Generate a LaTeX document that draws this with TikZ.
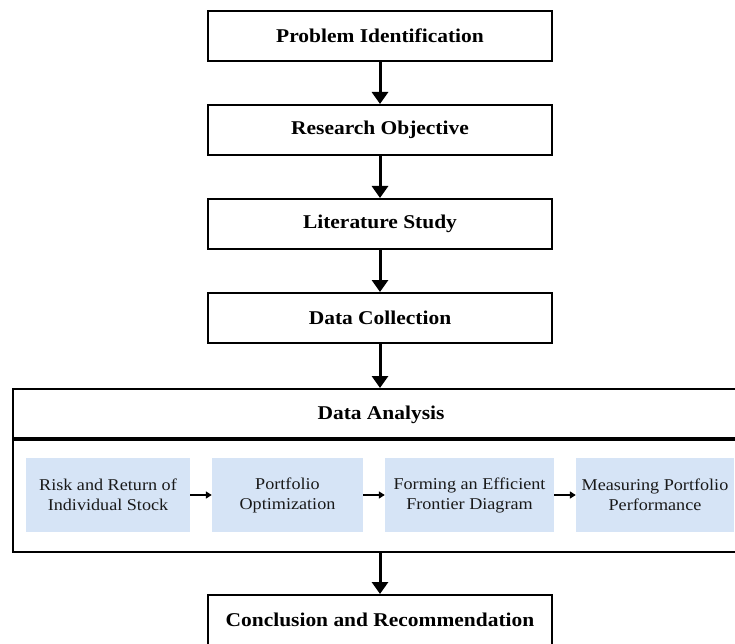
\documentclass[tikz,border=0pt]{standalone}
\usepackage{fontspec}
\setmainfont{Liberation Serif}[FakeStretch=1.1]
\usetikzlibrary{arrows.meta}

\definecolor{stepblue}{RGB}{214,228,246}

\tikzset{
  mainbox/.style={draw, line width=2pt, minimum width=344pt, minimum height=50pt,
    inner sep=0pt, font=\fontsize{19.5}{22}\selectfont\bfseries},
  substep/.style={fill=stepblue, draw=none, minimum height=74pt, inner sep=0pt,
    align=center, text=black!90, font=\fontsize{16.5}{20}\selectfont},
  bigarrow/.style={line width=3pt, -{Triangle[length=12pt,width=16pt]}},
  smallarrow/.style={line width=1.8pt, -{Triangle[length=6pt,width=7pt]}},
}

\begin{document}
\begin{tikzpicture}[x=1pt, y=-1pt]
  \useasboundingbox (0,0) rectangle (735,644);
  \clip (0,0) rectangle (735,644);

  % main sequence of steps
  \node[mainbox] (b1) at (380,36)  {Problem Identification};
  \node[mainbox] (b2) at (380,130) {Research Objective};
  \node[mainbox] (b3) at (380,224) {Literature Study};
  \node[mainbox] (b4) at (380,318) {Data Collection};

  % analysis block: header and body
  \node[draw, line width=2pt, minimum width=736pt, minimum height=51pt, inner sep=0pt,
        anchor=north west, font=\fontsize{19.5}{22}\selectfont\bfseries]
        (da) at (12,388) {Data Analysis};
  \node[draw, line width=2pt, minimum width=736pt, minimum height=112pt, inner sep=0pt,
        anchor=north west] (dabody) at (12,439) {};
  \draw[line width=3.5pt] (dabody.north west) -- (dabody.north east);

  % analysis sub-steps
  \node[substep, minimum width=164pt] (s1) at (108,495)
    {Risk and Return of\\Individual Stock};
  \node[substep, minimum width=151pt] (s2) at (287.5,495)
    {Portfolio\\Optimization};
  \node[substep, minimum width=169pt] (s3) at (469.5,495)
    {Forming an Efficient\\Frontier Diagram};
  \node[substep, minimum width=158pt] (s4) at (655,495)
    {Measuring Portfolio\\Performance};

  \node[mainbox] (b5) at (380,620) {Conclusion and Recommendation};

  % connectors
  \draw[bigarrow] (b1.south) -- (b2.north);
  \draw[bigarrow] (b2.south) -- (b3.north);
  \draw[bigarrow] (b3.south) -- (b4.north);
  \draw[bigarrow] (b4.south) -- (da.north -| b4.south);
  \draw[bigarrow] (dabody.south -| b4.south) -- (b5.north);

  \draw[smallarrow] (s1.east) -- (s2.west);
  \draw[smallarrow] (s2.east) -- (s3.west);
  \draw[smallarrow] (s3.east) -- (s4.west);
\end{tikzpicture}
\end{document}
